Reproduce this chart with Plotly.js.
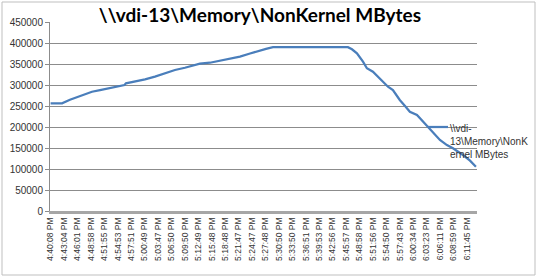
<!DOCTYPE html>
<html><head><meta charset="utf-8">
<script src="https://cdn.plot.ly/plotly-3.0.1.min.js"></script>
<style>html,body{margin:0;padding:0;background:#fff}#c{width:537px;height:277px}</style>
</head><body><div id="c"></div>
<script>
const tickLabels = ["4:40:08 PM","4:43:04 PM","4:46:01 PM","4:48:58 PM","4:51:55 PM","4:54:53 PM","4:57:51 PM","5:00:49 PM","5:03:47 PM","5:06:50 PM","5:09:50 PM","5:12:49 PM","5:15:48 PM","5:18:48 PM","5:21:47 PM","5:24:47 PM","5:27:48 PM","5:30:50 PM","5:33:50 PM","5:36:51 PM","5:39:53 PM","5:42:56 PM","5:45:57 PM","5:48:58 PM","5:51:56 PM","5:54:50 PM","5:57:43 PM","6:00:34 PM","6:03:23 PM","6:06:11 PM","6:08:59 PM","6:11:45 PM"];
// sample positions, in units of tick-label intervals
const samplePos = [0,0.48,0.85,1.44,2.04,2.56,3.08,3.68,4.57,5.17,5.5,5.61,6.28,7.03,7.77,8.52,9.26,10.0,11.12,11.86,12.61,13.35,14.1,14.85,15.59,16.04,16.56,22.14,22.44,22.81,23.26,23.55,24.0,24.52,25.12,25.49,26.0,26.39,26.75,27.28,27.73,28.25,28.99,29.51,29.96,30.71,31.23,31.67];
const nonKernelMB = [256000,256000,256500,265000,272000,278000,284000,288000,294500,299000,300000,304000,308000,313600,320000,328000,335700,341000,351000,353000,358000,362000,367400,375000,383000,386000,390000,390000,385000,375500,355500,339800,331700,316000,296000,288000,264300,250000,236400,228600,212600,192900,169000,157000,149300,133300,120000,105500];
const yTicks = [0,50000,100000,150000,200000,250000,300000,350000,400000,450000];
const seriesName = "\\\\vdi-13\\Memory\\NonKernel MBytes";
const legendLines = ["\\\\vdi-", "13\\Memory\\NonK", "ernel MBytes"];

const tickIdx = tickLabels.map((_, i) => i);
const lineColor = '#4a7ebb';
const trace = {
  x: samplePos, y: nonKernelMB, type: 'scatter', mode: 'lines',
  name: seriesName,
  line: {color: lineColor, width: 2.25},
  hoverinfo: 'skip'
};
const layout = {
  width: 537, height: 277,
  margin: {l: 50, r: 60, t: 22, b: 66},
  paper_bgcolor: '#fff', plot_bgcolor: '#fff',
  title: {text: '<b>' + seriesName + '</b>', x: 0.484, xanchor: 'center', y: 0.945, yanchor: 'middle',
          font: {family: 'Lato, sans-serif', size: 19, color: '#000'}},
  xaxis: {
    range: [-0.045, 31.75], tickmode: 'array', tickvals: tickIdx, ticktext: tickLabels,
    tickangle: -90, tickfont: {family: 'Liberation Sans, sans-serif', size: 8.5, color: '#333'},
    showgrid: false, zeroline: false, showline: true, linecolor: '#a6a6a6', linewidth: 3,
    ticks: '', automargin: false
  },
  yaxis: {
    range: [0, 450000], tickmode: 'array', tickvals: yTicks, ticktext: yTicks.map(String),
    tickfont: {family: 'Liberation Sans, sans-serif', size: 10, color: '#333'},
    showgrid: true, gridcolor: '#8c8c8c', gridwidth: 1, zeroline: false,
    showline: true, linecolor: '#8c8c8c', linewidth: 1,
    ticks: 'outside', ticklen: 4, tickcolor: '#8c8c8c', automargin: false
  },
  showlegend: false,
  annotations: [{
    xref: 'paper', yref: 'paper', x: (448 - 50) / 427, y: (211 - 121) / 189,
    xanchor: 'left', yanchor: 'top', align: 'left', showarrow: false,
    text: legendLines.join('<br>'),
    font: {family: 'Liberation Sans, sans-serif', size: 10, color: '#333'}
  }],
  shapes: [
    {type: 'rect', xref: 'paper', yref: 'paper',
     x0: (2-50)/427, x1: (535-50)/427, y0: (211-275)/189, y1: (211-2)/189,
     line: {color: '#bfbfbf', width: 1}},
    {type: 'line', xref: 'paper', yref: 'paper',
     x0: (428-50)/427, x1: (448-50)/427, y0: (211-127)/189, y1: (211-127)/189,
     line: {color: lineColor, width: 2.25}}
  ]
};
Plotly.newPlot('c', [trace], layout, {displayModeBar: false, staticPlot: true});
</script></body></html>
